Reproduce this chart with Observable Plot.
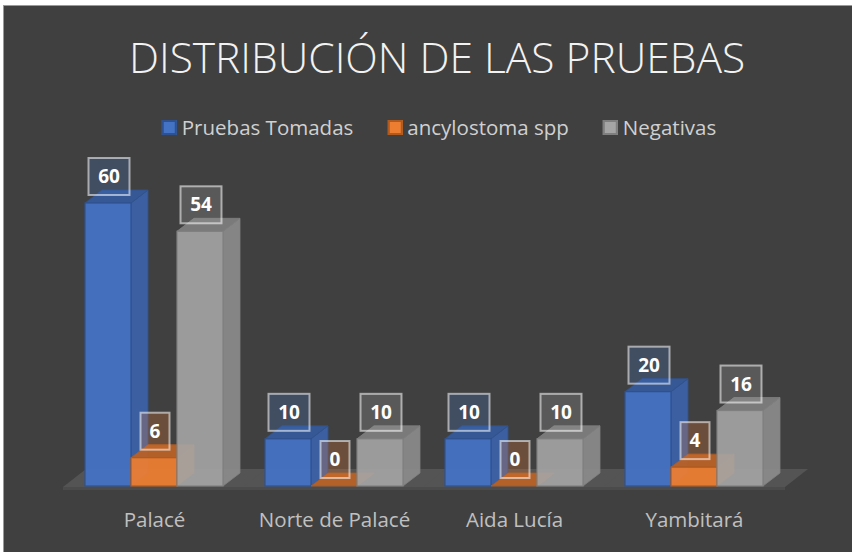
<!DOCTYPE html>
<html>
<head>
<meta charset="utf-8">
<script src="https://cdn.jsdelivr.net/npm/d3@7"></script>
<script src="https://cdn.jsdelivr.net/npm/@observablehq/plot@0.6"></script>
<style>
  html, body { margin: 0; padding: 0; background: #ffffff; }
  #frame {
    position: absolute; left: 3px; top: 5px; width: 848px; height: 546px;
    background: #404040; border-left: 1px solid #9a9a9a; border-top: 1px solid #9a9a9a;
  }
  #title {
    position: absolute; left: 437px; top: 36px; transform: translateX(-50%);
    font-family: "Open Sans", sans-serif; font-weight: 300; font-size: 42.5px; line-height: 1;
    color: #f2f2f2; white-space: nowrap;
  }
  #legend {
    position: absolute; left: 439px; top: 117px; transform: translateX(-50%);
    display: flex; gap: 34px; font-family: "Open Sans", sans-serif; font-size: 20.5px; line-height: 1;
    color: #d0d0d0; white-space: nowrap;
  }
  #legend .item { display: flex; align-items: center; gap: 5px; }
  #legend .sw { width: 15px; height: 15px; box-sizing: border-box; border: 2px solid; }
  #chart { position: absolute; left: 0; top: 150px; }
</style>
</head>
<body>
<div id="frame"></div>
<div id="title">DISTRIBUCIÓN DE LAS PRUEBAS</div>
<div id="legend"></div>
<div id="chart"></div>
<script>
const groups = ["Palacé", "Norte de Palacé", "Aida Lucía", "Yambitará"];
const series = ["Pruebas Tomadas", "ancylostoma spp", "Negativas"];
const pruebasTomadas = [60, 10, 10, 20];
const ancylostomaSpp = [6, 0, 0, 4];
const negativas = [54, 10, 10, 16];
const colors = ["#4472C4", "#ED7D31", "#A5A5A5"];
const edgeColors = ["#2F528F", "#AE5A21", "#7F7F7F"];

const valuesBySeries = [pruebasTomadas, ancylostomaSpp, negativas];
const rows = [];
groups.forEach((g, gi) => series.forEach((s, si) => rows.push({group: g, series: s, value: valuesBySeries[si][gi]})));

// legend
const legend = document.getElementById("legend");
series.forEach((s, i) => {
  const item = document.createElement("div");
  item.className = "item";
  const sw = document.createElement("span");
  sw.className = "sw";
  sw.style.background = colors[i];
  sw.style.borderColor = edgeColors[i];
  const t = document.createElement("span");
  t.textContent = s;
  item.append(sw, t);
  legend.append(item);
});

const DX = 17, DY = 13;

function floorRender(index, scales) {
  const xs = scales.x, ys = scales.y;
  const r = xs.range();
  const y0 = ys(0) + 1;
  const l = Math.min(...r) - 21, rr = Math.max(...r) + 21;
  const g = d3.create("svg:g");
  const fdx = 23, fdy = 18;
  g.append("path")
    .attr("d", `M${l},${y0}L${l + fdx},${y0 - fdy}L${rr + fdx},${y0 - fdy}L${rr},${y0}Z`)
    .attr("fill", "#545454");
  g.append("rect").attr("x", l).attr("y", y0).attr("width", rr - l).attr("height", 3).attr("fill", "#4b4b4b");
  return g.node();
}

function barsRender(index, scales) {
  const xs = scales.x, ys = scales.y;
  const bw = xs.bandwidth();
  const y0 = ys(0);
  const idx = Array.from(index).sort((a, b) => series.indexOf(rows[a].series) - series.indexOf(rows[b].series));
  const g = d3.create("svg:g");
  for (const i of idx) {
    const d = rows[i];
    const si = series.indexOf(d.series);
    const base = d3.color(scales.color(d.series));
    const edge = edgeColors[si];
    const x0 = xs(d.series), x1 = x0 + bw, yt = ys(d.value);
    const op = si === 2 ? 0.9 : 0.94;
    g.append("path")
      .attr("d", `M${x1},${y0}L${x1 + DX},${y0 - DY}L${x1 + DX},${yt - DY}L${x1},${yt}Z`)
      .attr("fill", base.darker(0.45).formatHex()).attr("fill-opacity", op)
      .attr("stroke", edge).attr("stroke-opacity", 0.8);
    g.append("path")
      .attr("d", `M${x0},${yt}L${x0 + DX},${yt - DY}L${x1 + DX},${yt - DY}L${x1},${yt}Z`)
      .attr("fill", base.darker(0.7).formatHex()).attr("fill-opacity", op)
      .attr("stroke", edge).attr("stroke-opacity", 0.8);
    g.append("rect")
      .attr("x", x0).attr("y", yt).attr("width", bw).attr("height", Math.max(0, y0 - yt))
      .attr("fill", base.formatHex()).attr("fill-opacity", op)
      .attr("stroke", edge).attr("stroke-width", 1.2);
  }
  // data labels
  for (const i of idx) {
    const d = rows[i];
    const x0 = xs(d.series), yt = ys(d.value);
    const cx = x0 + bw / 2 + 1;
    const w = String(d.value).length > 1 ? 41 : 29, h = 37;
    const bottom = yt - 8;
    g.append("rect")
      .attr("x", cx - w / 2).attr("y", bottom - h).attr("width", w).attr("height", h)
      .attr("fill", scales.color(d.series)).attr("fill-opacity", 0.25)
      .attr("stroke", "#ffffff").attr("stroke-opacity", 0.55).attr("stroke-width", 2);
    g.append("text")
      .attr("x", cx).attr("y", bottom - h / 2).attr("dy", "0.35em")
      .attr("text-anchor", "middle").attr("fill", "#ffffff")
      .attr("font-weight", "bold").attr("font-size", 19)
      .text(d.value);
  }
  return g.node();
}

const chart = Plot.plot({
  width: 852,
  height: 402,
  marginLeft: 83,
  marginRight: 86,
  marginTop: 53,
  marginBottom: 66,
  style: {background: "transparent", fontFamily: "Open Sans, sans-serif", color: "#bfbfbf"},
  fx: {domain: groups, paddingInner: 0.22, paddingOuter: 0, label: null},
  x: {domain: series, padding: 0, axis: null},
  y: {domain: [0, 60], axis: null},
  color: {domain: series, range: colors},
  marks: [
    Plot.barY(rows, {fx: "group", x: "series", y: "value", fill: "series", render: floorRender}),
    Plot.barY(rows, {fx: "group", x: "series", y: "value", fill: "series", render: barsRender}),
    Plot.axisFx({anchor: "bottom", tickSize: 0, tickPadding: 26, fontSize: 20.5, fill: "#c0c0c0", label: null})
  ]
});
document.getElementById("chart").append(chart);
</script>
</body>
</html>
